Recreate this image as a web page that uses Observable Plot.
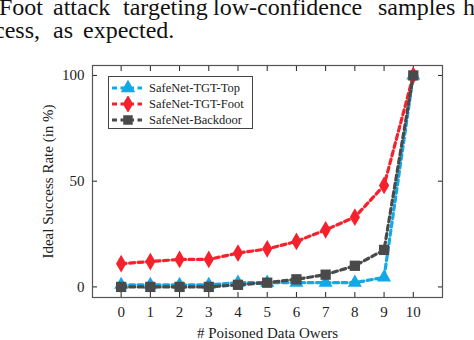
<!DOCTYPE html>
<html><head><meta charset="utf-8">
<script src="https://cdn.jsdelivr.net/npm/d3@7"></script>
<script src="https://cdn.jsdelivr.net/npm/@observablehq/plot@0.6"></script>
<style>
body{margin:0;background:#fff;}
#wrap{position:relative;width:474px;height:340px;overflow:hidden;font-family:"Liberation Serif","Times New Roman",serif;}
.w{position:absolute;font-size:24px;line-height:24px;color:#111;white-space:nowrap;font-family:"Liberation Serif",serif;}
#legend{position:absolute;left:108px;top:76px;width:145px;height:53px;border:1px solid #444;background:#fff;box-sizing:border-box;}
.row{position:absolute;left:0;height:16px;color:#222;}
.row svg{position:absolute;left:1px;top:0;}
.row span{position:absolute;left:40px;top:0px;white-space:nowrap;line-height:16px;font-size:12.5px;font-family:"Liberation Serif",serif;}
#plot{position:absolute;left:0;top:0;}
</style></head>
<body><div id="wrap">
<div id="plot"></div>
<div id="legend"></div>
</div>
<script>
// paragraph fragment shown above the figure (cropped from the page)
const paraLine1 = ["TGT-Foot","attack","targeting","low-confidence","samples","has"];
const paraLine2 = ["cess,","as","expected."];

const owners = [0,1,2,3,4,5,6,7,8,9,10];
const tgtTop = [1,1,1,1,2,2,2,2,2,4.5,100];
const tgtFoot = [11,12,13,13,16,18,21.5,27,33,48,100];
const backdoor = [0,0,0,0,1,2,3.6,5.8,10,17.5,100];
const seriesNames = ["SafeNet-TGT-Top","SafeNet-TGT-Foot","SafeNet-Backdoor"];
const seriesColors = ["#12a9e6","#f5222d","#4a4a4a"];
const seriesSymbols = ["triangle","diamond","square"];
const yTicks = [0,50,100];
const xLabel = "# Poisoned Data Owers";
const yLabel = "Ideal Success Rate (in %)";

const wrap = document.getElementById("wrap");
function addWord(text, top, opts){
  const d = document.createElement("div");
  d.className = "w";
  d.textContent = text;
  d.style.top = top + "px";
  if (opts.right != null) d.style.right = opts.right + "px"; else d.style.left = opts.left + "px";
  wrap.appendChild(d);
}
// justified words: first one cut at the left edge, last at the right edge
const l1pos = [{right:431},{left:53},{left:123},{left:213},{left:378},{left:463}];
paraLine1.forEach((w,i)=>addWord(w, -5, l1pos[i]));
const l2pos = [{right:434},{left:53},{left:83}];
paraLine2.forEach((w,i)=>addWord(w, 18, l2pos[i]));

const allSeries = [tgtTop, tgtFoot, backdoor];
const rows = allSeries.map((vals, s) => owners.map((o, i) => ({x: o, y: vals[i], s})));

const marks = [];
rows.forEach((data, s) => {
  marks.push(Plot.line(data, {x:"x", y:"y", stroke: seriesColors[s], strokeWidth: 3.2, strokeDasharray:"5,3.5"}));
  marks.push(Plot.dot(data, {x:"x", y:"y", fill: seriesColors[s], stroke: "none", symbol: seriesSymbols[s], r: seriesSymbols[s]==="square" ? 5.8 : (seriesSymbols[s]==="triangle"?5.2:5.4)}));
});

const ff = '"Liberation Serif", serif';
const chart = Plot.plot({
  width: 474, height: 340,
  marginLeft: 92, marginRight: 32, marginTop: 65, marginBottom: 43,
  style: {fontFamily: ff, fontSize: "15px", color:"#222", background:"transparent"},
  x: {domain: [-0.98, 11.0], ticks: owners, label: null},
  y: {domain: [-5, 104.7], ticks: yTicks, label: null},
  marks: [
    Plot.axisX({anchor:"bottom", ticks: owners, tickSize:-5, tickPadding: 14, label: xLabel, labelAnchor:"center", labelArrow:"none", labelOffset: 40, fontSize: 15, fontFamily: ff}),
    Plot.axisX({anchor:"top", ticks: owners, tickSize:-5, tickFormat: () => "", label: null}),
    Plot.axisY({anchor:"left", ticks: yTicks, tickSize:-5, tickPadding: 13, label: yLabel, labelAnchor:"center", labelArrow:"none", labelOffset: 50, fontSize: 15, fontFamily: ff}),
    Plot.axisY({anchor:"right", ticks: yTicks, tickSize:-5, tickFormat: () => "", label: null}),
    ...marks,
    Plot.frame({stroke:"#555", strokeWidth:1.2})
  ]
});
document.getElementById("plot").appendChild(chart);

// legend
const leg = document.getElementById("legend");
seriesNames.forEach((name, s) => {
  const row = document.createElement("div");
  row.className = "row";
  row.style.top = (2.5 + s*16.3) + "px";
  row.style.width = "142px";
  const svg = d3.create("svg").attr("width", 36).attr("height", 16);
  svg.append("line").attr("x1",2).attr("x2",32).attr("y1",8).attr("y2",8)
    .attr("stroke", seriesColors[s]).attr("stroke-width",3.2).attr("stroke-dasharray","5,3.5");
  svg.append("path").attr("transform","translate(18,8)")
    .attr("d", d3.symbol(seriesSymbols[s]==="triangle"?d3.symbolTriangle:seriesSymbols[s]==="diamond"?d3.symbolDiamond:d3.symbolSquare, 90)())
    .attr("fill", seriesColors[s]);
  row.appendChild(svg.node());
  const sp = document.createElement("span");
  sp.textContent = name;
  row.appendChild(sp);
  leg.appendChild(row);
});
</script>
</body></html>
